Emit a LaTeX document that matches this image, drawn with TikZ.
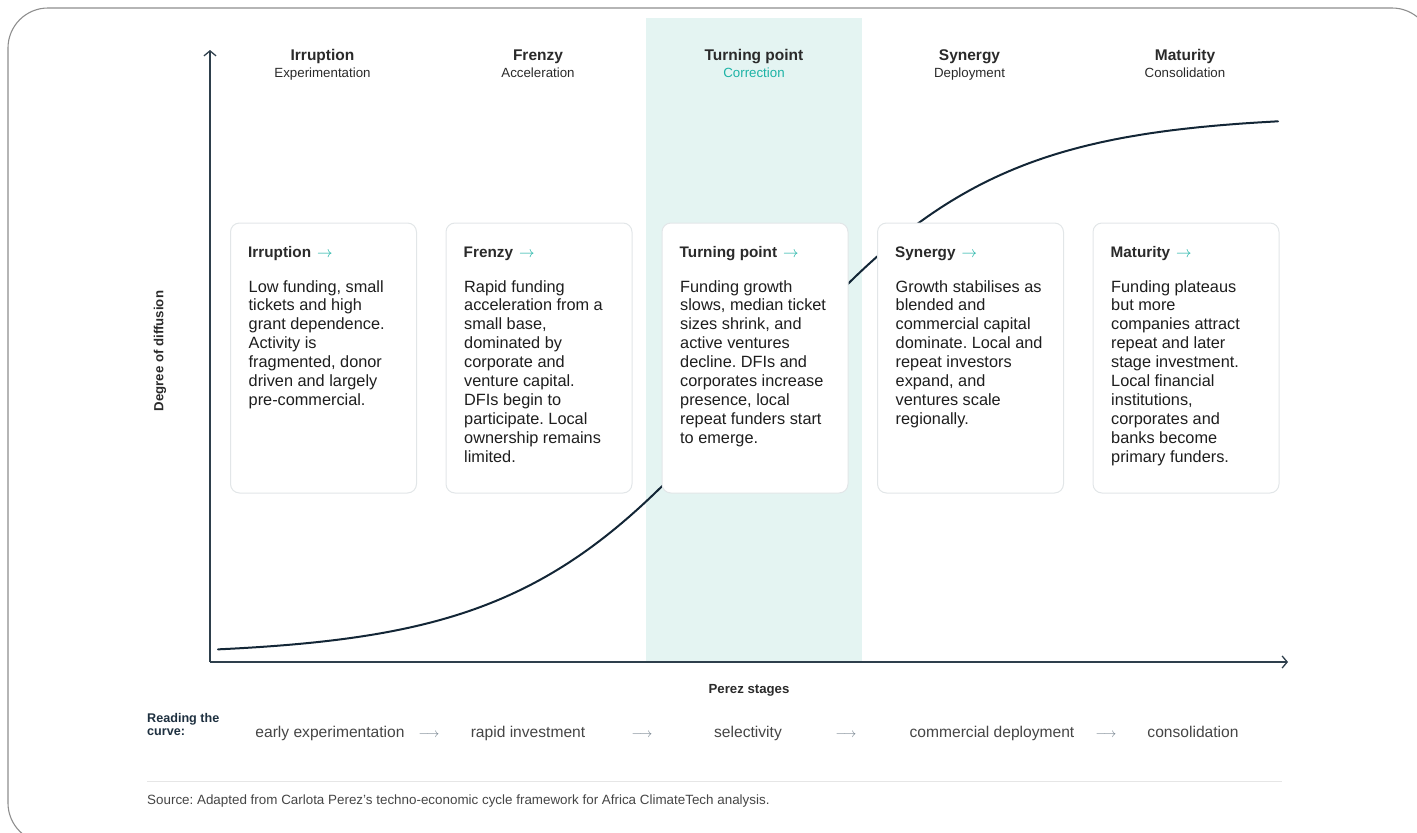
\documentclass[tikz,border=0pt]{standalone}
\usepackage{graphicx}
\usepackage{fontspec}
\setmainfont{Liberation Sans}
\usetikzlibrary{arrows.meta}
\frenchspacing

\definecolor{framegray}{HTML}{8E8E8E}
\definecolor{bandteal}{HTML}{E4F4F2}
\definecolor{accent}{HTML}{1DB3A6}
\definecolor{axiscol}{HTML}{2E3F4C}
\definecolor{curvecol}{HTML}{132636}
\definecolor{boxborder}{HTML}{E2E6E8}
\definecolor{headcol}{HTML}{2A2A2A}
\definecolor{bodycol}{HTML}{1E1E1E}
\definecolor{readcol}{HTML}{454545}
\definecolor{arrowgray}{HTML}{6F7D89}
\definecolor{rulegray}{HTML}{E6E6E6}
\definecolor{navytext}{HTML}{1E3040}

% thin arrows taken from the math font at 10pt and scaled up
\newcommand{\nxt}{\hspace{6pt}{\color{accent}\fontsize{10}{12}\selectfont\scalebox{1.55}{$\rightarrow$}}}
\newcommand{\longarr}{{\fontsize{10}{12}\selectfont\scalebox{1.3}{$\longrightarrow$}}}

\begin{document}
\begin{tikzpicture}[x=1pt, y=-1pt,
  frame/.style={draw=framegray, line width=1.1pt, rounded corners=40pt},
  axisline/.style={draw=axiscol, line width=1.4pt, -{Straight Barb[length=5pt,width=12pt,line width=1.3pt]}},
  curve/.style={draw=curvecol, line width=2pt, line cap=round},
  stagebox/.style={draw=boxborder, fill=white, line width=1pt, rounded corners=9pt,
    minimum width=186pt, minimum height=270pt, anchor=north west, inner sep=0pt},
  stagehead/.style={anchor=base, inner sep=0pt, text=headcol, font=\fontsize{15.5}{18}\selectfont\bfseries},
  stagesub/.style={anchor=base, inner sep=0pt, text=headcol, font=\fontsize{13.3}{15}\selectfont},
  boxtitle/.style={anchor=base west, inner sep=0pt, text=headcol, font=\fontsize{15.3}{18}\selectfont\bfseries},
  boxbody/.style={anchor=base west, inner sep=0pt, align=left, text=bodycol, font=\fontsize{16.3}{18.9}\selectfont},
  axislabel/.style={inner sep=0pt, text=headcol, font=\fontsize{13.2}{15}\selectfont\bfseries},
  readitem/.style={anchor=base, inner sep=0pt, text=readcol, font=\fontsize{15.6}{18}\selectfont},
  readarrow/.style={anchor=base, inner sep=0pt, text=arrowgray},
]
\useasboundingbox (0,0) rectangle (1417,833);

% outer frame, running off the right and bottom edges
\begin{scope}
  \clip (0,0) rectangle (1417,833);
  \draw[frame] (8,8) rectangle (1432,843);
\end{scope}

% highlighted turning-point band
\fill[bandteal] (646,18) rectangle (862,662);

% axes
\coordinate (origin) at (210,662);
\coordinate (ytop) at (210,50);
\coordinate (xend) at (1288,662);
\draw[axisline] (origin) -- (ytop);
\draw[axisline] (origin) -- (xend);

% diffusion curve
\draw[curve] plot[domain=218:1278, samples=150, smooth]
  (\x, {655-540/(1+exp(-(\x-755)/118))});

% stage headers
\node[stagehead] (h1) at (322.5,60) {Irruption};
\node[stagesub]  (s1) at (322.5,77.5) {Experimentation};
\node[stagehead] (h2) at (538,60) {Frenzy};
\node[stagesub]  (s2) at (538,77.5) {Acceleration};
\node[stagehead] (h3) at (754,60) {Turning point};
\node[stagesub, text=accent] (s3) at (754,77.5) {Correction};
\node[stagehead] (h4) at (969.5,60) {Synergy};
\node[stagesub]  (s4) at (969.5,77.5) {Deployment};
\node[stagehead] (h5) at (1185,60) {Maturity};
\node[stagesub]  (s5) at (1185,77.5) {Consolidation};

% stage cards
\node[stagebox] (b1) at (230,222.5) {};
\node[stagebox] (b2) at (445.5,222.5) {};
\node[stagebox] (b3) at (661.5,222.5) {};
\node[stagebox] (b4) at (877,222.5) {};
\node[stagebox] (b5) at (1092.5,222.5) {};

\node[boxtitle] (t1) at ([shift={(18,35)}]b1.north west) {Irruption\nxt};
\node[boxtitle] (t2) at ([shift={(18,35)}]b2.north west) {Frenzy\nxt};
\node[boxtitle] (t3) at ([shift={(18,35)}]b3.north west) {Turning point\nxt};
\node[boxtitle] (t4) at ([shift={(18,35)}]b4.north west) {Synergy\nxt};
\node[boxtitle] (t5) at ([shift={(18,35)}]b5.north west) {Maturity\nxt};

% card texts, placed by the baseline of their last line
\node[boxbody] (d1) at ([shift={(18.5,182.9)}]b1.north west)
  {Low funding, small\\tickets and high\\grant dependence.\\Activity is\\fragmented, donor\\driven and largely\\pre-commercial.};
\node[boxbody] (d2) at ([shift={(18.5,239.6)}]b2.north west)
  {Rapid funding\\acceleration from a\\small base,\\dominated by\\corporate and\\venture capital.\\DFIs begin to\\participate. Local\\ownership remains\\limited.};
\node[boxbody] (d3) at ([shift={(18.5,220.7)}]b3.north west)
  {Funding growth\\slows, median ticket\\sizes shrink, and\\active ventures\\decline. DFIs and\\corporates increase\\presence, local\\repeat funders start\\to emerge.};
\node[boxbody] (d4) at ([shift={(18.5,201.8)}]b4.north west)
  {Growth stabilises as\\blended and\\commercial capital\\dominate. Local and\\repeat investors\\expand, and\\ventures scale\\regionally.};
\node[boxbody] (d5) at ([shift={(18.5,239.6)}]b5.north west)
  {Funding plateaus\\but more\\companies attract\\repeat and later\\stage investment.\\Local financial\\institutions,\\corporates and\\banks become\\primary funders.};

% axis labels
\node[axislabel, rotate=90] (ylab) at (160,351) {Degree of diffusion};
\node[axislabel, anchor=base] (xlab) at (749,693) {Perez stages};

% reading row
\node[anchor=base west, inner sep=0pt, align=left, text=navytext,
      font=\fontsize{12.6}{13.5}\selectfont\bfseries] (rd) at (147,735.5) {Reading the\\curve:};
\node[readitem]  (r1) at (330,737) {early experimentation};
\node[readarrow] (a1) at (429,737) {\longarr};
\node[readitem]  (r2) at (528,737) {rapid investment};
\node[readarrow] (a2) at (642,737) {\longarr};
\node[readitem]  (r3) at (748,737) {selectivity};
\node[readarrow] (a3) at (846,737) {\longarr};
\node[readitem]  (r4) at (992,737) {commercial deployment};
\node[readarrow] (a4) at (1106,737) {\longarr};
\node[readitem]  (r5) at (1193,737) {consolidation};

% footer
\coordinate (ruleL) at (147,781);
\coordinate (ruleR) at (1282,781);
\draw[rulegray, line width=1pt] (ruleL) -- (ruleR);
\node[anchor=base west, inner sep=0pt, text=readcol, font=\fontsize{13.4}{15}\selectfont]
  (src) at (147,804) {Source: Adapted from Carlota Perez's techno-economic cycle framework for Africa ClimateTech analysis.};
\end{tikzpicture}
\end{document}
